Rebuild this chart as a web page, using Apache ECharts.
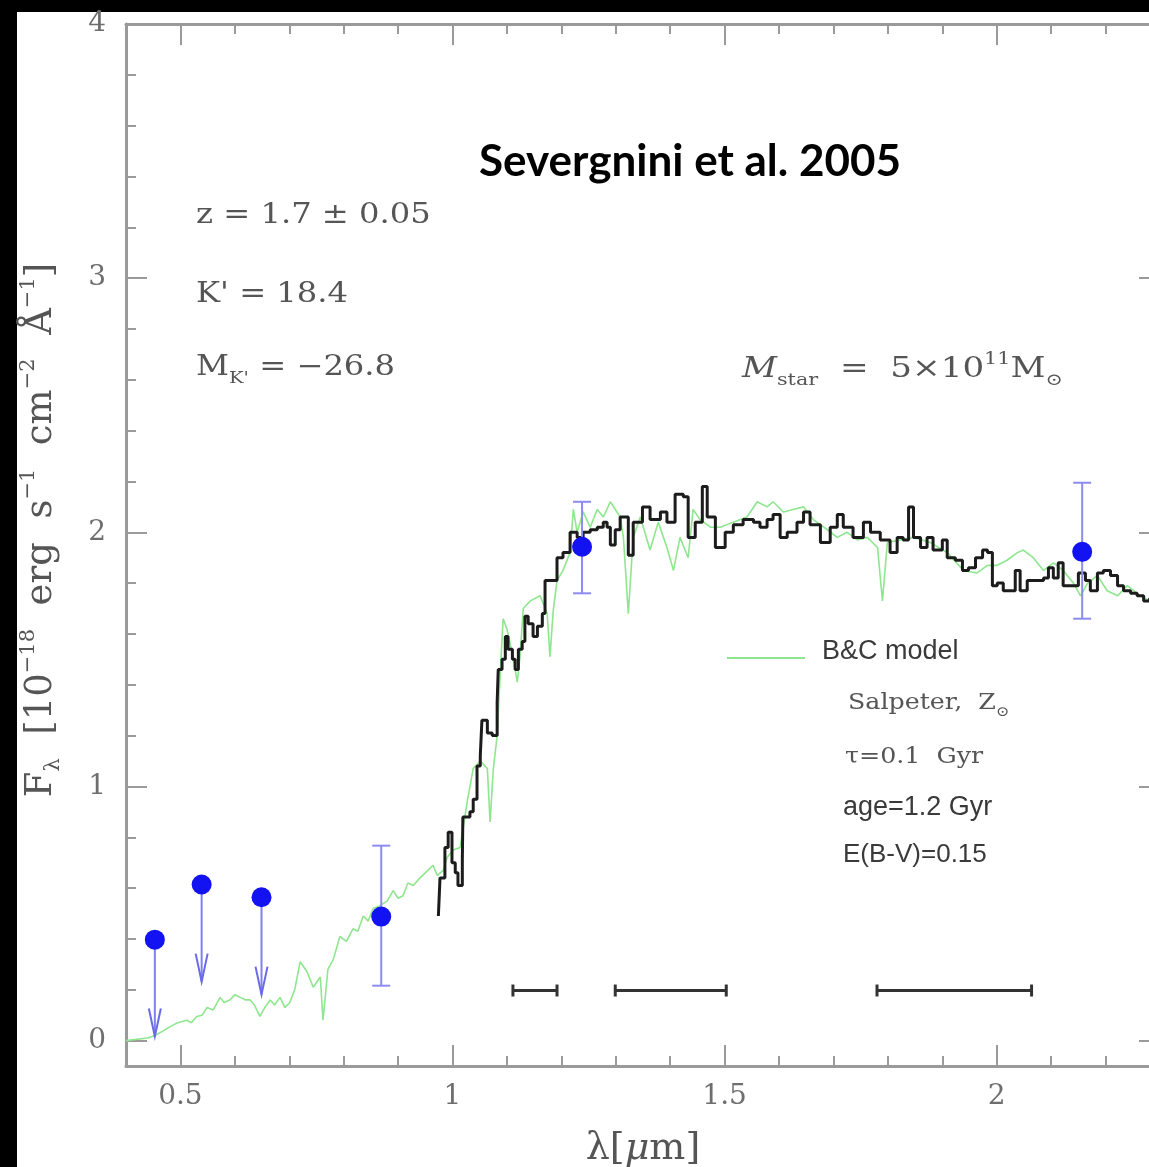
<!DOCTYPE html>
<html>
<head>
<meta charset="utf-8">
<title>Severgnini et al. 2005</title>
<script src="https://cdn.jsdelivr.net/npm/echarts@6/dist/echarts.min.js"></script>
<style>
  html, body { margin: 0; padding: 0; background: #000; }
  #chart { width: 1149px; height: 1167px; }
</style>
</head>
<body>
<div id="chart"></div>
<script>
// B&C model spectrum (green)
const modelLambda = [0.40, 0.44, 0.453, 0.47, 0.481, 0.495, 0.512, 0.52, 0.530, 0.54, 0.549, 0.56, 0.573, 0.58, 0.591, 0.60,
  0.610, 0.62, 0.628, 0.636, 0.646, 0.655, 0.665, 0.673, 0.683, 0.692, 0.701, 0.710, 0.720, 0.733, 0.744, 0.757, 0.762,
  0.771, 0.781, 0.793, 0.805, 0.817, 0.826, 0.836, 0.845, 0.854, 0.866, 0.880, 0.891, 0.900, 0.909, 0.918, 0.928, 0.940,
  0.950, 0.964, 0.972, 0.983, 0.990, 1.001, 1.014, 1.027, 1.038, 1.051, 1.064, 1.069, 1.075, 1.082, 1.088, 1.093, 1.100,
  1.111, 1.119, 1.124, 1.130, 1.143, 1.161, 1.174, 1.179, 1.185, 1.192, 1.203, 1.216, 1.222, 1.229, 1.240, 1.253, 1.266,
  1.277, 1.290, 1.308, 1.314, 1.323, 1.332, 1.345, 1.363, 1.378, 1.394, 1.406, 1.418, 1.433, 1.442, 1.455, 1.474, 1.492,
  1.516, 1.541, 1.560, 1.578, 1.589, 1.608, 1.626, 1.645, 1.663, 1.689, 1.707, 1.725, 1.744, 1.762, 1.781, 1.790, 1.799,
  1.823, 1.847, 1.878, 1.909, 1.939, 1.964, 1.983, 2.001, 2.019, 2.038, 2.049, 2.067, 2.086, 2.104, 2.122, 2.141, 2.154,
  2.167, 2.185, 2.203, 2.222, 2.240, 2.264, 2.281, 2.30];
const modelFlux = [0.00, 0.01, 0.02, 0.04, 0.055, 0.07, 0.08, 0.07, 0.095, 0.10, 0.13, 0.12, 0.17, 0.15, 0.16, 0.18,
  0.17, 0.16, 0.16, 0.14, 0.095, 0.13, 0.16, 0.14, 0.17, 0.13, 0.15, 0.20, 0.31, 0.27, 0.21, 0.25, 0.08,
  0.28, 0.32, 0.41, 0.39, 0.44, 0.43, 0.49, 0.47, 0.52, 0.53, 0.55, 0.59, 0.56, 0.57, 0.62, 0.61, 0.64,
  0.66, 0.69, 0.65, 0.67, 0.72, 0.75, 0.76, 0.94, 1.07, 1.10, 1.07, 0.86, 1.07, 1.20, 1.46, 1.66, 1.62,
  1.51, 1.41, 1.51, 1.70, 1.73, 1.75, 1.68, 1.51, 1.69, 1.81, 1.85, 1.92, 2.09, 2.00, 2.08, 2.02, 2.09,
  2.06, 2.12, 2.06, 1.98, 1.68, 1.98, 2.06, 1.93, 2.04, 1.94, 1.85, 1.98, 1.90, 2.09, 2.05, 2.02, 2.02,
  2.04, 2.06, 2.12, 2.10, 2.12, 2.08, 2.09, 2.10, 2.05, 2.01, 1.98, 2.00, 1.97, 1.98, 1.94, 1.73, 1.96,
  1.97, 1.98, 1.96, 1.92, 1.85, 1.84, 1.87, 1.87, 1.89, 1.92, 1.93, 1.90, 1.85, 1.88, 1.85, 1.80, 1.75,
  1.80, 1.83, 1.77, 1.75, 1.79, 1.75, 1.73, 1.72];

// observed spectrum (black, binned)
const obsLambda = [0.974, 0.977, 0.986, 0.992, 0.999, 1.005, 1.010, 1.018, 1.019, 1.032, 1.038, 1.045, 1.051, 1.054,
  1.064, 1.073, 1.082, 1.084, 1.091, 1.097, 1.102, 1.110, 1.115, 1.121, 1.128, 1.133, 1.139, 1.148, 1.156, 1.165,
  1.170, 1.183, 1.192, 1.203, 1.216, 1.229, 1.240, 1.253, 1.266, 1.277, 1.284, 1.290, 1.299, 1.308, 1.323, 1.332,
  1.349, 1.363, 1.382, 1.394, 1.409, 1.424, 1.433, 1.446, 1.459, 1.468, 1.483, 1.501, 1.516, 1.534, 1.553, 1.565,
  1.578, 1.589, 1.602, 1.615, 1.633, 1.645, 1.657, 1.676, 1.694, 1.707, 1.718, 1.736, 1.755, 1.768, 1.786, 1.804,
  1.817, 1.828, 1.838, 1.847, 1.860, 1.872, 1.883, 1.900, 1.909, 1.924, 1.937, 1.948, 1.961, 1.974, 1.983, 1.992,
  2.001, 2.012, 2.025, 2.034, 2.043, 2.056, 2.075, 2.086, 2.095, 2.104, 2.113, 2.122, 2.139, 2.150, 2.163, 2.172,
  2.185, 2.196, 2.209, 2.222, 2.233, 2.246, 2.258, 2.270, 2.281, 2.30];
const obsFlux = [0.49, 0.64, 0.76, 0.82, 0.70, 0.66, 0.61, 0.71, 0.88, 0.90, 0.95, 1.08, 1.12, 1.26,
  1.21, 1.20, 1.33, 1.46, 1.50, 1.59, 1.54, 1.50, 1.46, 1.54, 1.57, 1.67, 1.64, 1.59, 1.63, 1.68,
  1.81, 1.81, 1.90, 1.92, 2.00, 1.98, 2.00, 2.01, 2.02, 2.04, 2.02, 1.95, 2.01, 2.06, 1.91, 2.04,
  2.10, 2.05, 2.08, 2.04, 2.15, 2.14, 1.98, 2.04, 2.18, 2.06, 1.94, 2.00, 2.03, 2.05, 2.04, 2.02,
  2.05, 2.07, 1.98, 2.00, 2.04, 2.08, 2.03, 1.96, 2.02, 2.07, 2.02, 1.98, 2.04, 2.00, 1.97, 1.92,
  1.98, 1.97, 2.10, 1.98, 1.94, 1.98, 1.93, 1.97, 1.90, 1.89, 1.85, 1.86, 1.90, 1.93, 1.92, 1.79,
  1.80, 1.77, 1.77, 1.85, 1.77, 1.81, 1.81, 1.82, 1.86, 1.82, 1.88, 1.79, 1.79, 1.84, 1.81, 1.77,
  1.84, 1.85, 1.83, 1.79, 1.77, 1.76, 1.75, 1.73, 1.74, 1.72];

// photometric points
const photLambda = [0.453, 0.539, 0.649, 0.869, 1.238, 2.157];
const photFlux = [0.397, 0.614, 0.564, 0.488, 1.943, 1.923];
// detections with error bars
const errLambda = [0.869, 1.238, 2.157];
const errLow = [0.216, 1.76, 1.66];
const errHigh = [0.767, 2.12, 2.195];
// upper limits (arrow from point down to tip)
const limLambda = [0.453, 0.539, 0.649];
const limFrom = [0.397, 0.614, 0.564];
const limTo = [0.016, 0.232, 0.181];
// filter widths
const bandStart = [1.111, 1.299, 1.780];
const bandEnd = [1.192, 1.503, 2.064];
const bandFlux = [0.197, 0.197, 0.197];

// axis ticks
const xMinorTicks = [0.4, 0.5, 0.6, 0.7, 0.8, 0.9, 1.0, 1.1, 1.2, 1.3, 1.4, 1.5, 1.6, 1.7, 1.8, 1.9, 2.0, 2.1, 2.2, 2.3];
const xMajorTicks = [0.5, 1, 1.5, 2];
const yMinorTicks = [0, 0.2, 0.4, 0.6, 0.8, 1, 1.2, 1.4, 1.6, 1.8, 2, 2.2, 2.4, 2.6, 2.8, 3, 3.2, 3.4, 3.6, 3.8, 4];
const yMajorTicks = [0, 1, 2, 3, 4];

const SERIF = '"DejaVu Serif", "Liberation Serif", serif';
const SANS = '"Liberation Sans", Arial, sans-serif';
const axisGray = '#9a9a9a';

const chart = echarts.init(document.getElementById('chart'));

function makeAxis(dim, position, ticks, len, main) {
  const ax = {
    type: 'value',
    position: position,
    min: dim === 'x' ? 0.4 : -0.1,
    max: dim === 'x' ? 2.3 : 4,
    axisLine: { show: main, onZero: false, lineStyle: { color: axisGray, width: 3 } },
    axisTick: { show: true, inside: true, length: len, customValues: ticks,
      lineStyle: { color: axisGray, width: 2 } },
    axisLabel: { show: false },
    splitLine: { show: false },
    silent: true
  };
  return ax;
}

const xBottom = makeAxis('x', 'bottom', xMinorTicks, 10, true);
xBottom.axisLabel = { show: true, customValues: xMajorTicks, margin: 17,
  fontFamily: SERIF, fontSize: 28, color: '#6e6e6e' };
xBottom.name = 'λ[{i|μ}m]';
xBottom.nameLocation = 'middle';
xBottom.nameGap = 64;
xBottom.nameTextStyle = { fontFamily: SERIF, fontSize: 38, color: '#555',
  rich: { i: { fontFamily: SERIF, fontSize: 38, fontStyle: 'italic', color: '#555' } } };

const yLeft = makeAxis('y', 'left', yMinorTicks, 10, true);
yLeft.axisLabel = { show: true, customValues: yMajorTicks, margin: 20,
  fontFamily: SERIF, fontSize: 28, color: '#6e6e6e' };
yLeft.name = '{t|F}{s|λ}{t|  [10}{p|−18}{t|  erg  s}{p|−1}{t|  cm}{p|−2}{t|  Å}{p|−1}{t|]}';
yLeft.nameLocation = 'middle';
yLeft.nameRotate = 90;
yLeft.nameGap = 62;
const nameTok = { fontFamily: SERIF, fontSize: 37, color: '#555', lineHeight: 46 };
yLeft.nameTextStyle = { fontFamily: SERIF, fontSize: 37, color: '#555', lineHeight: 46,
  padding: [0, 0, 0, 30],
  rich: {
    t: nameTok,
    s: { fontFamily: SERIF, fontSize: 21, color: '#555', lineHeight: 18, verticalAlign: 'bottom' },
    p: { fontFamily: SERIF, fontSize: 21, color: '#555', lineHeight: 18, verticalAlign: 'top' }
  } };

// rich text helpers for annotations
function serifRich(size) {
  return {
    n: { fontFamily: SERIF, fontSize: size, fill: '#555', lineHeight: size + 10 },
    i: { fontFamily: SERIF, fontSize: size, fontStyle: 'italic', fill: '#555', lineHeight: size + 10 },
    b: { fontFamily: SERIF, fontSize: Math.round(size * 0.62), fill: '#555', lineHeight: Math.round(size * 0.6), verticalAlign: 'bottom' },
    p: { fontFamily: SERIF, fontSize: Math.round(size * 0.62), fill: '#555', lineHeight: Math.round(size * 0.6), verticalAlign: 'top' }
  };
}

function serifText(x, y, text, size, sx) {
  return { type: 'text', x: x, y: y, scaleX: sx || 1.15, z: 10,
    style: { text: text, fontFamily: SERIF, fontSize: size, fill: '#555',
      verticalAlign: 'middle', rich: serifRich(size) } };
}
function sansText(x, y, text, size) {
  return { type: 'text', x: x, y: y, z: 10,
    style: { text: text, fontFamily: SANS, fontSize: size, fill: '#3a3a3a', verticalAlign: 'middle' } };
}

const option = {
  backgroundColor: '#000',
  animation: false,
  grid: { left: 126, top: 24, right: -11, bottom: 101, containLabel: false, outerBoundsMode: 'none' },
  xAxis: [
    xBottom,
    makeAxis('x', 'bottom', xMajorTicks, 21, false),
    makeAxis('x', 'top', xMinorTicks, 10, true),
    makeAxis('x', 'top', xMajorTicks, 21, false)
  ],
  yAxis: [
    yLeft,
    makeAxis('y', 'left', yMajorTicks, 21, false),
    makeAxis('y', 'right', yMinorTicks, 10, true),
    makeAxis('y', 'right', yMajorTicks, 21, false)
  ],
  graphic: [
    { type: 'rect', z: -100, shape: { x: 17, y: 12, width: 1140, height: 1160 }, style: { fill: '#fff' } },
    { type: 'text', x: 690, y: 162, z: 10,
      style: { text: 'Severgnini et al. 2005', fontFamily: 'Lato, "Open Sans", sans-serif', fontWeight: 'bold',
        fontSize: 44, fill: '#000', align: 'center', verticalAlign: 'middle' } },
    serifText(196, 216, 'z = 1.7 ± 0.05', 28),
    serifText(196, 295, "K' = 18.4", 28),
    serifText(196, 368, "{n|M}{b|K'}{n| = −26.8}", 28),
    serifText(742, 370, '{i|M}{b|star}{n|  =  5×10}{p|11}{n|M}{b|⊙}', 28, 1.22),
    { type: 'line', z: 10, shape: { x1: 727, y1: 658, x2: 805, y2: 658 },
      style: { stroke: '#8ee68e', lineWidth: 2 } },
    sansText(822, 652, 'B&C model', 27),
    serifText(848, 703, '{n|Salpeter,  Z}{b|⊙}', 22),
    serifText(845, 757, 'τ=0.1  Gyr', 22),
    sansText(843, 808, 'age=1.2 Gyr', 27),
    sansText(843, 855, 'E(B-V)=0.15', 26)
  ],
  series: [
    {
      name: 'B&C model',
      type: 'line',
      data: modelLambda.map((l, i) => [l, modelFlux[i]]),
      showSymbol: false,
      lineStyle: { color: '#8ee68e', width: 1.6 },
      z: 3
    },
    {
      name: 'observed',
      type: 'line',
      step: 'end',
      data: obsLambda.map((l, i) => [l, obsFlux[i]]),
      showSymbol: false,
      lineStyle: { color: '#1c1c1c', width: 3 },
      z: 4
    },
    {
      name: 'errors',
      type: 'custom',
      data: errLambda.map((l, i) => [l, errLow[i], errHigh[i]]),
      renderItem: (params, api) => {
        const x = api.value(0);
        const lo = api.coord([x, api.value(1)]);
        const hi = api.coord([x, api.value(2)]);
        const cap = 9;
        const style = { stroke: '#8c8cf0', lineWidth: 2 };
        return { type: 'group', children: [
          { type: 'line', shape: { x1: lo[0], y1: lo[1], x2: hi[0], y2: hi[1] }, style: style },
          { type: 'line', shape: { x1: lo[0] - cap, y1: lo[1], x2: lo[0] + cap, y2: lo[1] }, style: style },
          { type: 'line', shape: { x1: hi[0] - cap, y1: hi[1], x2: hi[0] + cap, y2: hi[1] }, style: style }
        ] };
      },
      z: 5
    },
    {
      name: 'upper limits',
      type: 'custom',
      data: limLambda.map((l, i) => [l, limFrom[i], limTo[i]]),
      renderItem: (params, api) => {
        const x = api.value(0);
        const from = api.coord([x, api.value(1)]);
        const tip = api.coord([x, api.value(2)]);
        const style = { stroke: '#8080ee', lineWidth: 2 };
        return { type: 'group', children: [
          { type: 'line', shape: { x1: from[0], y1: from[1], x2: tip[0], y2: tip[1] }, style: style },
          { type: 'polyline', shape: { points: [[tip[0] - 6, tip[1] - 28], [tip[0], tip[1]], [tip[0] + 6, tip[1] - 28]] },
            style: { stroke: '#6a6ae8', lineWidth: 2, fill: null } }
        ] };
      },
      z: 5
    },
    {
      name: 'filters',
      type: 'custom',
      data: bandStart.map((s, i) => [s, bandFlux[i], bandEnd[i]]),
      renderItem: (params, api) => {
        const y = api.value(1);
        const a = api.coord([api.value(0), y]);
        const b = api.coord([api.value(2), y]);
        const style = { stroke: '#333', lineWidth: 3 };
        return { type: 'group', children: [
          { type: 'line', shape: { x1: a[0], y1: a[1], x2: b[0], y2: b[1] }, style: style },
          { type: 'line', shape: { x1: a[0], y1: a[1] - 6, x2: a[0], y2: a[1] + 6 }, style: style },
          { type: 'line', shape: { x1: b[0], y1: b[1] - 6, x2: b[0], y2: b[1] + 6 }, style: style }
        ] };
      },
      z: 5
    },
    {
      name: 'photometry',
      type: 'scatter',
      data: photLambda.map((l, i) => [l, photFlux[i]]),
      symbol: 'circle',
      symbolSize: 20,
      itemStyle: { color: '#1212f2', opacity: 1 },
      z: 6
    }
  ]
};

chart.setOption(option);
</script>
</body>
</html>
